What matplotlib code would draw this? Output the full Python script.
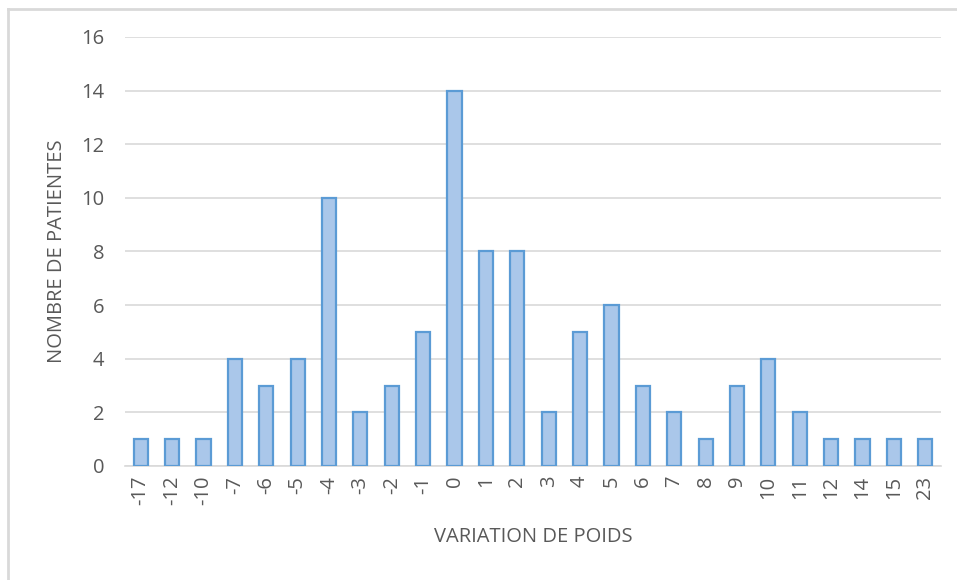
import numpy as np
import matplotlib
matplotlib.use('Agg')
import matplotlib.pyplot as plt
from matplotlib.lines import Line2D

categories = ['-17', '-12', '-10', '-7', '-6', '-5', '-4', '-3', '-2', '-1', '0', '1', '2',
              '3', '4', '5', '6', '7', '8', '9', '10', '11', '12', '14', '15', '23']
patients = [1, 1, 1, 4, 3, 4, 10, 2, 3, 5, 14, 8, 8, 2, 5, 6, 3, 2, 1, 3, 4, 2, 1, 1, 1, 1]
yticks = [0, 2, 4, 6, 8, 10, 12, 14, 16]

plt.rcParams['font.family'] = ['Open Sans', 'DejaVu Sans']
grey = '#595959'

fig = plt.figure(figsize=(9.57, 5.8), dpi=100)
ax = fig.add_axes([0.1306, 0.1966, 0.8527, 0.7397])

x = np.arange(len(categories))
ax.bar(x, patients, width=0.45, color='#aac7ea', edgecolor='#5b9bd5', linewidth=1.6, zorder=3)

ax.set_xlim(-0.5, len(categories) - 0.5)
ax.set_ylim(0, 16)
ax.set_yticks(yticks)
ax.set_xticks(x)
ax.set_xticklabels(categories, rotation=90)
ax.tick_params(axis='both', length=0, labelsize=14.5, colors=grey)
ax.tick_params(axis='y', pad=15)
ax.tick_params(axis='x', pad=7)
ax.grid(axis='y', color='#d9d9d9', linewidth=1.2, zorder=0)
for s in ['top', 'right', 'left']:
    ax.spines[s].set_visible(False)
ax.spines['bottom'].set_color('#d9d9d9')
ax.spines['bottom'].set_linewidth(1.2)

ax.set_xlabel('VARIATION DE POIDS', fontsize=14.5, color=grey, labelpad=16)
ax.set_ylabel('NOMBRE DE PATIENTES', fontsize=14.5, color=grey, labelpad=10)

# outer chart frame (left and top edges)
fig.add_artist(Line2D([8 / 957, 8 / 957], [0, 1 - 9 / 580], color='#d9d9d9', linewidth=2))
fig.add_artist(Line2D([8 / 957, 1], [1 - 9 / 580, 1 - 9 / 580], color='#d9d9d9', linewidth=2))

fig.savefig('out.png', dpi=100)
